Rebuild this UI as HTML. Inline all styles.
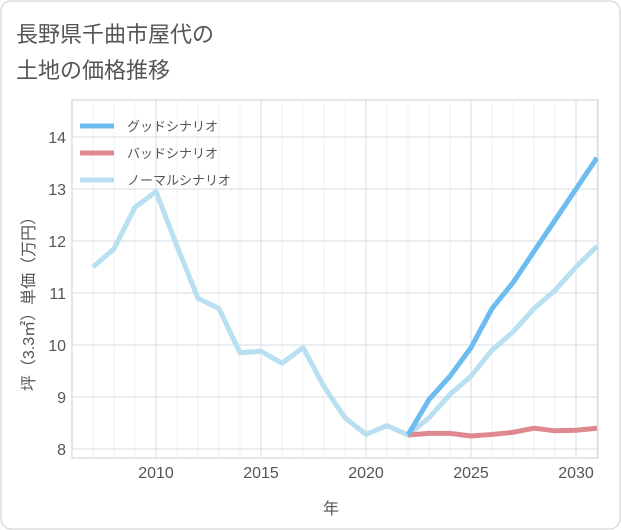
<!DOCTYPE html>
<html><head><meta charset="utf-8">
<style>
body{margin:0;background:#fff;}
svg{display:block;font-family:"Liberation Sans","Noto Sans CJK JP",sans-serif;}
</style></head><body>
<svg id="chart" width="621" height="530">
<rect x="1" y="1" width="619" height="528" rx="10" fill="#fff" stroke="#ccc"/>
<text x="16" y="42" font-size="22" fill="#555">長野県千曲市屋代の</text>
<text x="16" y="78" font-size="22" fill="#555">土地の価格推移</text>
<g id="grid"></g>
<g id="series"></g>
<g id="legend"></g>
<text x="331" y="514" font-size="16" fill="#555" text-anchor="middle">年</text>
<text transform="translate(34,300) rotate(-90)" font-size="16" fill="#555" text-anchor="middle">坪（3.3㎡）単価（万円）</text>
</svg>
<script>
const years = [2007,2008,2009,2010,2011,2012,2013,2014,2015,2016,2017,2018,2019,2020,2021,2022,2023,2024,2025,2026,2027,2028,2029,2030,2031];
const normal = [11.5,11.85,12.65,12.95,11.9,10.9,10.7,9.85,9.88,9.65,9.95,9.2,8.6,8.28,8.45,8.27,8.6,9.05,9.4,9.9,10.25,10.7,11.05,11.5,11.9];
const futureYears = [2022,2023,2024,2025,2026,2027,2028,2029,2030,2031];
const good = [8.27,8.95,9.4,9.95,10.7,11.2,11.8,12.4,13.0,13.6];
const bad = [8.27,8.3,8.3,8.25,8.28,8.32,8.4,8.35,8.36,8.4];
const xTicks = [2010,2015,2020,2025,2030];
const yTicks = [8,9,10,11,12,13,14];
const NS="http://www.w3.org/2000/svg";
const L=72,R=598,T=100,B=458;
const xs=y=>156+(y-2010)*21;
const ys=v=>449-(v-8)*52;
function mk(tag,attrs,parent){const e=document.createElementNS(NS,tag);for(const k in attrs)e.setAttribute(k,attrs[k]);parent.appendChild(e);return e;}
const grid=document.getElementById('grid');
mk('rect',{x:L,y:T,width:R-L,height:B-T,fill:'#fff',stroke:'#c8ced8'},grid);
for(let y=2007;y<=2031;y++){const l=mk('line',{x1:xs(y),x2:xs(y),y1:T,y2:B,stroke:xTicks.includes(y)?'#d6dce4':'#eef1f5'},grid);}
for(let v=7.9;v<14.8;v+=0.5){const yy=ys(Math.round(v*2)/2);if(yy<T||yy>B)continue;}
yTicks.forEach(v=>{const l=mk('line',{x1:L,x2:R,y1:ys(v),y2:ys(v),stroke:'#d6dce4'},grid);
const t=mk('text',{x:66,y:ys(v)+6,'font-size':16,fill:'#555','text-anchor':'end'},grid);t.textContent=v;});
xTicks.forEach(y=>{const t=mk('text',{x:xs(y),y:478,'font-size':16,fill:'#555','text-anchor':'middle'},grid);t.textContent=y;});
const ser=document.getElementById('series');
function line(xv,vals,color,name){const d=vals.map((v,i)=>(i?'L':'M')+xs(xv[i])+','+ys(v)).join('');const p=mk('path',{d:d,fill:'none',stroke:color,'stroke-width':5,'stroke-linejoin':'round'},ser);}
const cp=mk('clipPath',{id:'cp'},ser);mk('rect',{x:L,y:T,width:R-L,height:B-T},cp);ser.setAttribute('clip-path','url(#cp)');
line(years,normal,'#b8e0f0','normal-scenario-line');
line(futureYears,bad,'#e08890','bad-scenario-line');
line(futureYears,good,'#6cbcef','good-scenario-line');
const lg=document.getElementById('legend');
const items=[['グッドシナリオ','#6cbcef'],['バッドシナリオ','#e08890'],['ノーマルシナリオ','#b8e0f0']];
items.forEach((it,i)=>{const y=126+i*27;const l=mk('line',{x1:80,x2:114,y1:y,y2:y,stroke:it[1],'stroke-width':5},lg);
const t=mk('text',{x:127,y:y+5,'font-size':13,fill:'#555'},lg);t.textContent=it[0];});
</script>
</body></html>
